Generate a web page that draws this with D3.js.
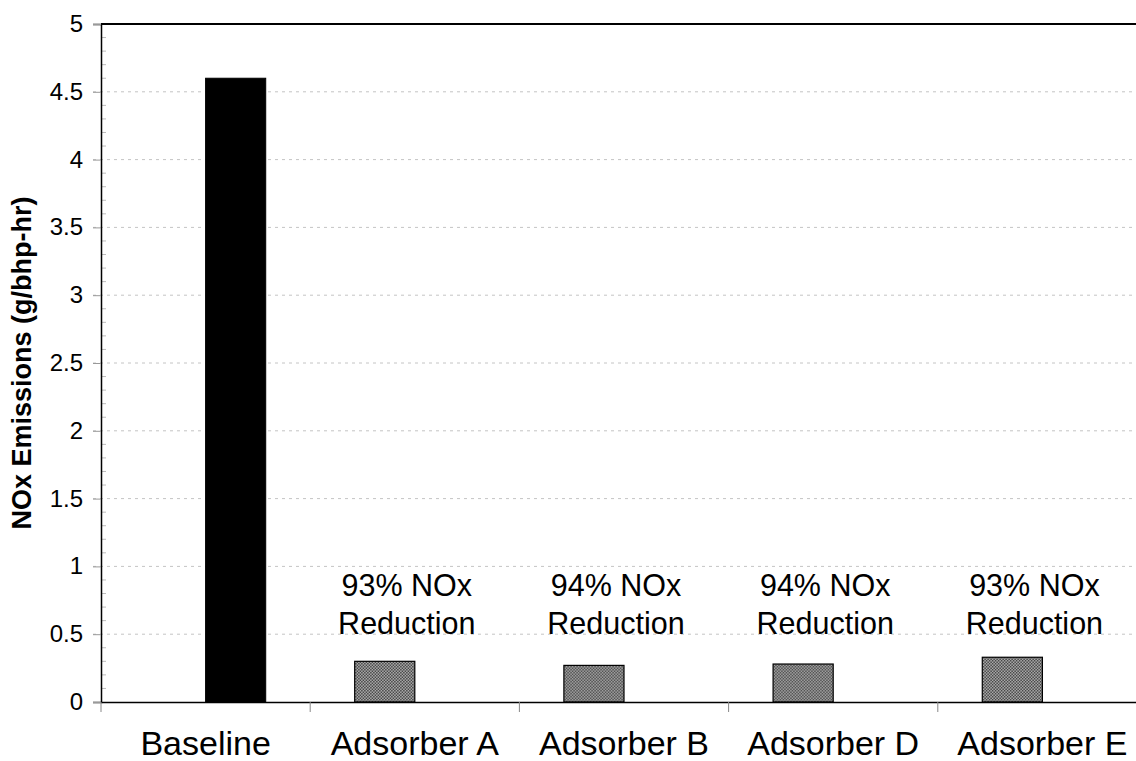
<!DOCTYPE html>
<html>
<head>
<meta charset="utf-8">
<script src="https://cdn.jsdelivr.net/npm/d3@7"></script>
<style>
  body { margin: 0; background: #fff; }
  text { font-family: "Liberation Sans", Arial, sans-serif; fill: #000; }
</style>
</head>
<body>
<div id="canvas"></div>
<script>
const categories = ["Baseline", "Adsorber A", "Adsorber B", "Adsorber D", "Adsorber E"];
const baselineValues = [4.6, null, null, null, null];
const adsorberValues = [null, 0.30, 0.27, 0.28, 0.33];
const reductionLabels = [null, "93% NOx", "94% NOx", "94% NOx", "93% NOx"];
const yTicks = [0, 0.5, 1, 1.5, 2, 2.5, 3, 3.5, 4, 4.5, 5];

const width = 1136;
const height = 761;
const margin = { top: 24, left: 101, bottom: 59, right: -11 };
const iwidth = width - margin.left - margin.right;
const iheight = height - margin.top - margin.bottom;

const svg = d3.select("#canvas").append("svg")
  .attr("width", width)
  .attr("height", height);

// dotted grey fill like the scanned bars
const pat = svg.append("defs").append("pattern")
  .attr("id", "dots")
  .attr("patternUnits", "userSpaceOnUse")
  .attr("width", 3).attr("height", 3);
pat.append("rect").attr("width", 3).attr("height", 3).attr("fill", "#b8b8b8");
pat.append("rect").attr("width", 1.5).attr("height", 1.5).attr("fill", "#3a3a3a");
pat.append("rect").attr("x", 1.5).attr("y", 1.5).attr("width", 1.5).attr("height", 1.5).attr("fill", "#3a3a3a");

const g = svg.append("g")
  .attr("transform", `translate(${margin.left},${margin.top})`);

const x = d3.scaleBand().domain(categories).range([0, iwidth]).padding(0);
const slot = d3.scaleBand()
  .domain(["adsorber", "baseline"])
  .range([0, x.bandwidth()])
  .paddingInner(0)
  .paddingOuter(0.74);
const y = d3.scaleLinear().domain([0, 5]).range([iheight, 0]);

// gridlines
g.append("g")
  .selectAll("line")
  .data(yTicks.filter((d) => d > 0 && d < 5))
  .enter()
  .append("line")
  .attr("x1", -8)
  .attr("x2", iwidth)
  .attr("y1", (d) => y(d))
  .attr("y2", (d) => y(d))
  .attr("stroke", "#c4c4c4")
  .attr("stroke-width", 1)
  .attr("stroke-dasharray", "3,4");

// minor ticks on the y axis
g.append("g")
  .selectAll("line")
  .data(d3.range(0, 50).map((i) => i / 10).filter((d, i) => i % 5 !== 0))
  .enter()
  .append("line")
  .attr("x1", 0)
  .attr("x2", 5)
  .attr("y1", (d) => y(d))
  .attr("y2", (d) => y(d))
  .attr("stroke", "#bbb");

// y axis
const yAxis = g.append("g")
  .call(d3.axisLeft(y).tickValues(yTicks).tickSize(8).tickFormat(""));
yAxis.select(".domain").attr("stroke", "#000").attr("stroke-width", 1.5);
yAxis.selectAll(".tick line").attr("stroke", "#999");

// tick labels, same size approach as the notes
const ylabs = g.append("text")
  .attr("text-anchor", "end")
  .style("font-size", "24px");
ylabs.selectAll("tspan")
  .data(yTicks)
  .enter()
  .append("tspan")
  .attr("x", -18)
  .attr("y", (d) => y(d) + 8)
  .text((d) => d);

// top frame line
g.append("line")
  .attr("x1", 0).attr("x2", iwidth)
  .attr("y1", 0).attr("y2", 0)
  .attr("stroke", "#000").attr("stroke-width", 2);

// bars
const cats = g.selectAll(".cat").data(categories).enter().append("g")
  .attr("class", "cat")
  .attr("transform", (d) => `translate(${x(d)},0)`);

cats.filter((d, i) => adsorberValues[i] != null)
  .append("rect")
  .attr("x", slot("adsorber"))
  .attr("width", slot.bandwidth())
  .attr("y", (d) => y(adsorberValues[categories.indexOf(d)]))
  .attr("height", (d) => iheight - y(adsorberValues[categories.indexOf(d)]))
  .attr("fill", "url(#dots)")
  .attr("stroke", "#000")
  .attr("stroke-width", 1.2);

cats.filter((d, i) => baselineValues[i] != null)
  .append("rect")
  .attr("x", slot("baseline"))
  .attr("width", slot.bandwidth())
  .attr("y", (d) => y(baselineValues[categories.indexOf(d)]))
  .attr("height", (d) => iheight - y(baselineValues[categories.indexOf(d)]))
  .attr("fill", "#000")
  .attr("stroke", "#000");

// reduction notes
const notes = cats.filter((d, i) => reductionLabels[i] != null)
  .append("text")
  .attr("text-anchor", "middle")
  .style("font-size", "30.5px");
notes.append("tspan")
  .attr("x", x.bandwidth() / 2 - 8)
  .attr("y", y(0.78))
  .text((d) => reductionLabels[categories.indexOf(d)]);
notes.append("tspan")
  .attr("x", x.bandwidth() / 2 - 8)
  .attr("y", y(0.5))
  .text("Reduction");

// x axis
const xAxis = g.append("g")
  .attr("transform", `translate(0,${iheight})`)
  .call(d3.axisBottom(x).tickSize(0).tickPadding(0));
xAxis.select(".domain").attr("stroke", "#000").attr("stroke-width", 1.5);
xAxis.selectAll(".tick text")
  .attr("y", 53)
  .attr("dy", 0)
  .style("font-size", "34px");

// x tick marks at category boundaries
g.append("g")
  .selectAll("line")
  .data(categories)
  .enter()
  .append("line")
  .attr("x1", (d) => x(d))
  .attr("x2", (d) => x(d))
  .attr("y1", iheight)
  .attr("y2", iheight + 10)
  .attr("stroke", "#888");

// y axis title
svg.append("text")
  .attr("transform", `translate(31,${margin.top + iheight / 2}) rotate(-90)`)
  .attr("text-anchor", "middle")
  .style("font-size", "27px")
  .style("font-weight", "bold")
  .text("NOx Emissions (g/bhp-hr)");
</script>
</body>
</html>
